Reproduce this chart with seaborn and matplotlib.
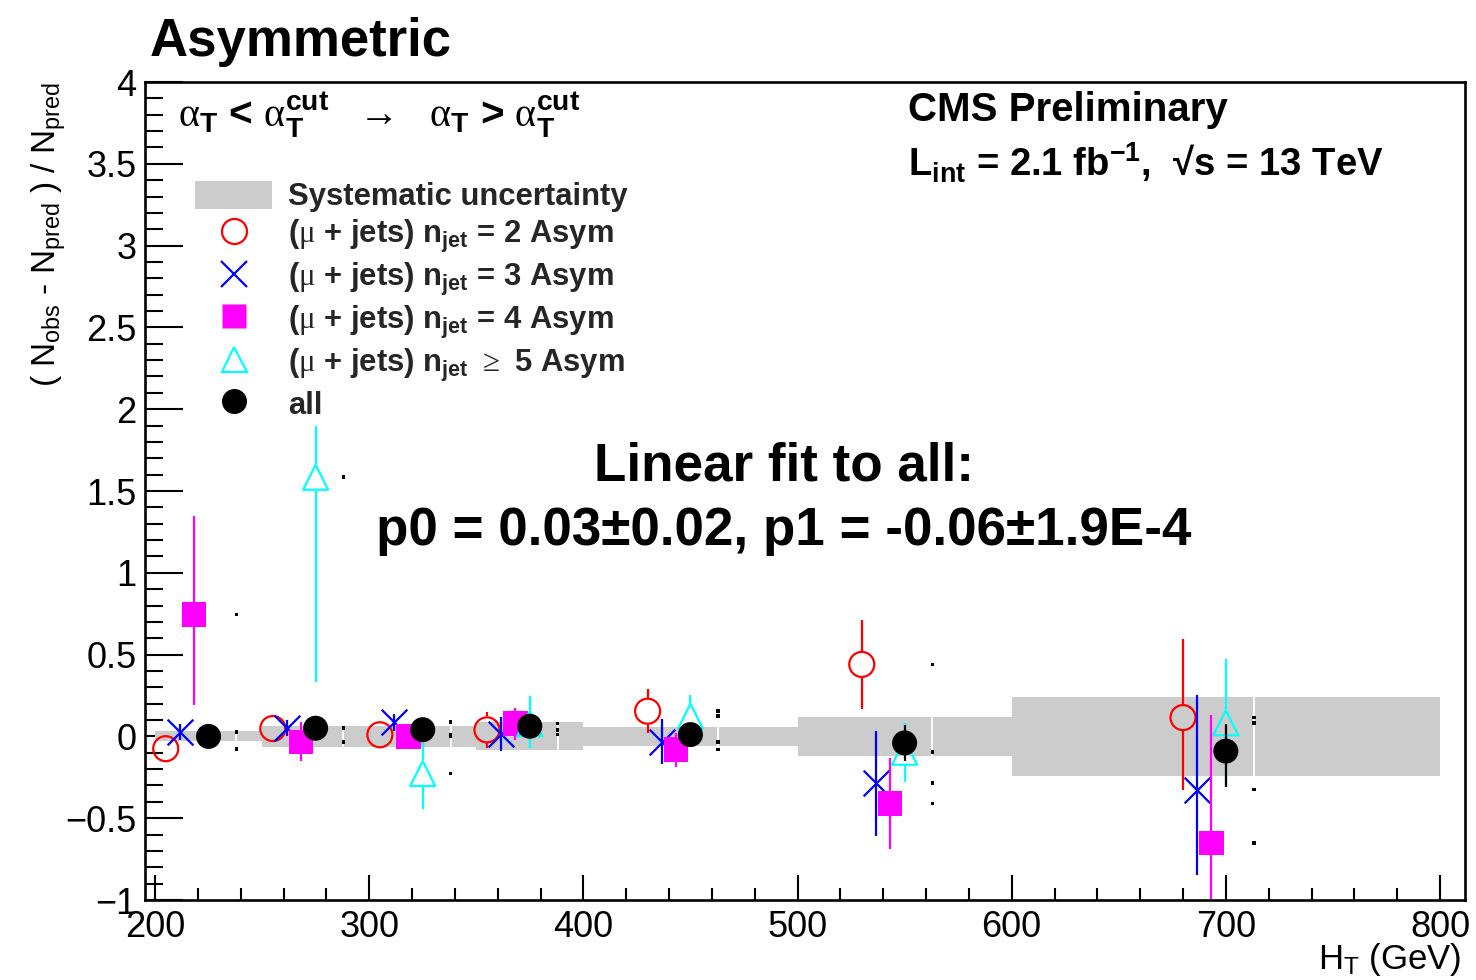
import numpy as np
import pandas as pd
import matplotlib
matplotlib.use("Agg")
import matplotlib.pyplot as plt
from matplotlib.lines import Line2D
from matplotlib.patches import Patch
from matplotlib.ticker import FixedLocator, FixedFormatter, MultipleLocator
import seaborn as sns

# ---------------- data ----------------
# H_T binning and systematic uncertainty band
ht_edges = [200, 250, 300, 350, 400, 500, 600, 800]
ht_centers = [225, 275, 325, 375, 450, 550, 700]
syst_unc = [0.03, 0.065, 0.062, 0.085, 0.06, 0.12, 0.24]

# (N_obs - N_pred) / N_pred per jet-multiplicity category (up / down uncertainties)
nj2_val = [-0.075, 0.048, 0.010, 0.040, 0.154, 0.440, 0.115]
nj2_up = [0.04, 0.04, 0.05, 0.112, 0.138, 0.27, 0.48]
nj2_dn = [0.04, 0.04, 0.05, 0.110, 0.131, 0.275, 0.445]

nj3_val = [0.025, 0.052, 0.086, 0.012, -0.034, -0.284, -0.325]
nj3_up = [0.05, 0.05, 0.05, 0.106, 0.143, 0.32, 0.58]
nj3_dn = [0.05, 0.05, 0.05, 0.102, 0.132, 0.325, 0.52]

nj4_val = [0.746, -0.034, 0.000, 0.078, -0.080, -0.410, -0.650]
nj4_up = [0.604, 0.12, 0.05, 0.098, 0.10, 0.28, 0.78]
nj4_dn = [0.556, 0.117, 0.05, 0.100, 0.11, 0.278, 0.78]

nj5_val = [np.nan, 1.584, -0.227, 0.078, 0.123, -0.097, 0.083]
nj5_up = [np.nan, 0.316, 0.21, 0.167, 0.133, 0.18, 0.39]
nj5_dn = [np.nan, 1.253, 0.216, 0.148, 0.18, 0.183, 0.39]

all_val = [0.000, 0.050, 0.041, 0.062, 0.011, -0.040, -0.090]
all_up = [0.03, 0.03, 0.03, 0.03, 0.03, 0.112, 0.163]
all_dn = [0.03, 0.03, 0.03, 0.03, 0.03, 0.112, 0.218]

x_ticks = [200, 300, 400, 500, 600, 700, 800]
x_tick_labels = ["200", "300", "400", "500", "600", "700", "800"]
y_ticks = [-1, -0.5, 0, 0.5, 1, 1.5, 2, 2.5, 3, 3.5, 4]
y_tick_labels = ["\u22121", "\u22120.5", "0", "0.5", "1", "1.5", "2", "2.5", "3", "3.5", "4"]

legend_labels = [
    "Systematic uncertainty",
    r"($\mathrm{\mu}$ + jets) n$_{jet}$ = 2 Asym",
    r"($\mathrm{\mu}$ + jets) n$_{jet}$ = 3 Asym",
    r"($\mathrm{\mu}$ + jets) n$_{jet}$ = 4 Asym",
    r"($\mathrm{\mu}$ + jets) n$_{jet}$ $\mathrm{\geq}$ 5 Asym",
    "all",
]

# ---------------- style ----------------
sns.set_theme(style="white")
plt.rcParams["font.family"] = ["Liberation Sans", "DejaVu Sans"]
plt.rcParams["mathtext.fontset"] = "custom"
plt.rcParams["mathtext.rm"] = "Liberation Serif"
plt.rcParams["mathtext.bf"] = "Liberation Sans:bold"
plt.rcParams["mathtext.default"] = "regular"

W, H = 1476, 980
fig = plt.figure(figsize=(W / 100, H / 100), dpi=100)
fig.patch.set_facecolor("white")
ax = fig.add_axes([145 / W, 1 - 900 / H, 1320 / W, 818 / H])
ax.set_facecolor("white")
ax.set_xlim(195.33, 811.67)
ax.set_ylim(-1, 4)

# systematic band per bin
edges = np.array(ht_edges, dtype=float)
ax.bar(edges[:-1], 2 * np.array(syst_unc), bottom=-np.array(syst_unc),
       width=np.diff(edges), align="edge", color="#cccccc", linewidth=0, zorder=1)

# pixel size of one y unit, used to keep error bars outside hollow markers
ax_h_px = 818.0
px_per_unit = ax_h_px / 5.0

series = [
    dict(val=nj2_val, up=nj2_up, dn=nj2_dn, color="#ff0000", marker="o", hollow=True, size=18.0, off=-20.0),
    dict(val=nj3_val, up=nj3_up, dn=nj3_dn, color="#0000ff", marker="x", hollow=False, size=18.5, off=-13.3),
    dict(val=nj4_val, up=nj4_up, dn=nj4_dn, color="#ff00ff", marker="s", hollow=False, size=17.5, off=-6.7),
    dict(val=nj5_val, up=nj5_up, dn=nj5_dn, color="#00ffff", marker="^", hollow=True, size=18.0, off=0.0),
    dict(val=all_val, up=all_up, dn=all_dn, color="#000000", marker="o", hollow=False, size=18.0, off=0.0),
]

centers = np.array(ht_centers, dtype=float)
dot_shift = 13.0

# small markers and thin white lines at the right of each point group
dot_x, dot_y = [], []
for s in series[:4]:
    for c, v in zip(centers, s["val"]):
        if np.isfinite(v):
            dot_x.append(c + dot_shift)
            dot_y.append(v)
ax.vlines(centers + dot_shift, -np.array(syst_unc), np.array(syst_unc),
          color="white", linewidth=1.3, zorder=2)
sns.scatterplot(x=dot_x, y=dot_y, marker="s", s=7, color="black",
                edgecolor="none", linewidth=0, ax=ax, zorder=3, legend=False)

for k, s in enumerate(series):
    df = pd.DataFrame({"x": centers + s["off"], "y": s["val"],
                       "up": s["up"], "dn": s["dn"]}).dropna()
    z = 4 + 2 * k
    if s["hollow"]:
        gap = (s["size"] * 100 / 72 / 2 + 1) / px_per_unit
        up_lo = df["y"] + np.minimum(gap, df["up"])
        dn_hi = df["y"] - np.minimum(gap, df["dn"])
        ax.vlines(df["x"], up_lo, df["y"] + df["up"], color=s["color"], linewidth=1.6, zorder=z)
        ax.vlines(df["x"], df["y"] - df["dn"], dn_hi, color=s["color"], linewidth=1.6, zorder=z)
        sns.scatterplot(data=df, x="x", y="y", marker=s["marker"], s=s["size"] ** 2,
                        color=s["color"], facecolor="none", edgecolor=s["color"],
                        linewidth=1.6, ax=ax, zorder=z + 1, legend=False)
    elif s["marker"] == "x":
        ax.vlines(df["x"], df["y"] - df["dn"], df["y"] + df["up"], color=s["color"],
                  linewidth=1.6, zorder=z)
        sns.scatterplot(data=df, x="x", y="y", marker="x", s=s["size"] ** 2,
                        color=s["color"], linewidth=1.6, ax=ax, zorder=z + 1, legend=False)
    else:
        ax.vlines(df["x"], df["y"] - df["dn"], df["y"] + df["up"], color=s["color"],
                  linewidth=1.6, zorder=z)
        sns.scatterplot(data=df, x="x", y="y", marker=s["marker"], s=s["size"] ** 2,
                        color=s["color"], edgecolor="none", linewidth=0,
                        ax=ax, zorder=z + 1, legend=False)

# ---------------- axes ----------------
for side in ["left", "right", "top", "bottom"]:
    ax.spines[side].set_visible(True)
    ax.spines[side].set_color("black")
    ax.spines[side].set_linewidth(1.9)
    ax.spines[side].set_zorder(30)

ax.xaxis.set_major_locator(FixedLocator(x_ticks))
ax.xaxis.set_major_formatter(FixedFormatter(x_tick_labels))
ax.xaxis.set_minor_locator(MultipleLocator(20))
ax.yaxis.set_major_locator(FixedLocator(y_ticks))
ax.yaxis.set_major_formatter(FixedFormatter(y_tick_labels))
ax.yaxis.set_minor_locator(MultipleLocator(0.1))

ax.tick_params(axis="both", which="both", direction="in", color="black",
               bottom=True, left=True, top=False, right=False,
               labelsize=26, labelcolor="black")
ax.tick_params(axis="x", which="major", length=18, width=1.5, pad=7)
ax.tick_params(axis="x", which="minor", length=8.6, width=1.5)
ax.tick_params(axis="y", which="major", length=27.4, width=1.5, pad=6)
ax.tick_params(axis="y", which="minor", length=13.3, width=1.5)

ax.set_xlabel(r"H$_{T}$ (GeV)", fontsize=25, loc="right", color="black")
ax.xaxis.set_label_coords(0.9977, -0.05)
ax.set_ylabel(r"( N$_{obs}$ - N$_{pred}$ ) / N$_{pred}$", fontsize=24, loc="top", color="black")
ax.yaxis.set_label_coords(-0.058, 1.0)

# ---------------- legend ----------------
handles = [
    Patch(facecolor="#cccccc", edgecolor="none"),
    Line2D([], [], ls="none", marker="o", ms=18.0, mfc="none", mec="#ff0000", mew=1.6),
    Line2D([], [], ls="none", marker="x", ms=18.5, color="#0000ff", mew=1.6),
    Line2D([], [], ls="none", marker="s", ms=17.5, mfc="#ff00ff", mec="none"),
    Line2D([], [], ls="none", marker="^", ms=18.0, mfc="none", mec="#00ffff", mew=1.6),
    Line2D([], [], ls="none", marker="o", ms=18.0, mfc="black", mec="none"),
]
leg = ax.legend(handles, legend_labels, loc="upper left",
                bbox_to_anchor=(50 / 1320, (900 - 181) / 818),
                frameon=False, borderpad=0, borderaxespad=0,
                prop={"weight": "bold", "size": 22.3},
                handlelength=2.5, handleheight=1.0, handletextpad=0.5,
                labelspacing=0.18)
leg.set_zorder(40)

# ---------------- annotations ----------------
def ftxt(x, y, s, **kw):
    fig.text(x / W, 1 - y / H, s, va="baseline", color="black", **kw)

ftxt(150, 56, "Asymmetric", fontsize=38, fontweight="bold", ha="left")
ftxt(908, 121, "CMS Preliminary", fontsize=29, fontweight="bold", ha="left")
ftxt(908, 177, "L$_{int}$ = 2.1 fb$^{-1}$,  \u221as = 13 TeV",
     fontsize=27.5, fontweight="bold", ha="left")
ftxt(178, 127,
     r"$\mathrm{\alpha}_{T}$ < $\mathrm{\alpha}_{T}^{cut}$  $\mathrm{\rightarrow}$  "
     r"$\mathrm{\alpha}_{T}$ > $\mathrm{\alpha}_{T}^{cut}$",
     fontsize=29, fontweight="bold", ha="left")
ftxt(784, 480, "Linear fit to all:", fontsize=38.2, fontweight="bold", ha="center")
ftxt(784, 545, "p0 = 0.03\u00b10.02, p1 = -0.06\u00b11.9E-4", fontsize=38.2,
     fontweight="bold", ha="center")

fig.savefig("out.png", dpi=100, facecolor="white")
